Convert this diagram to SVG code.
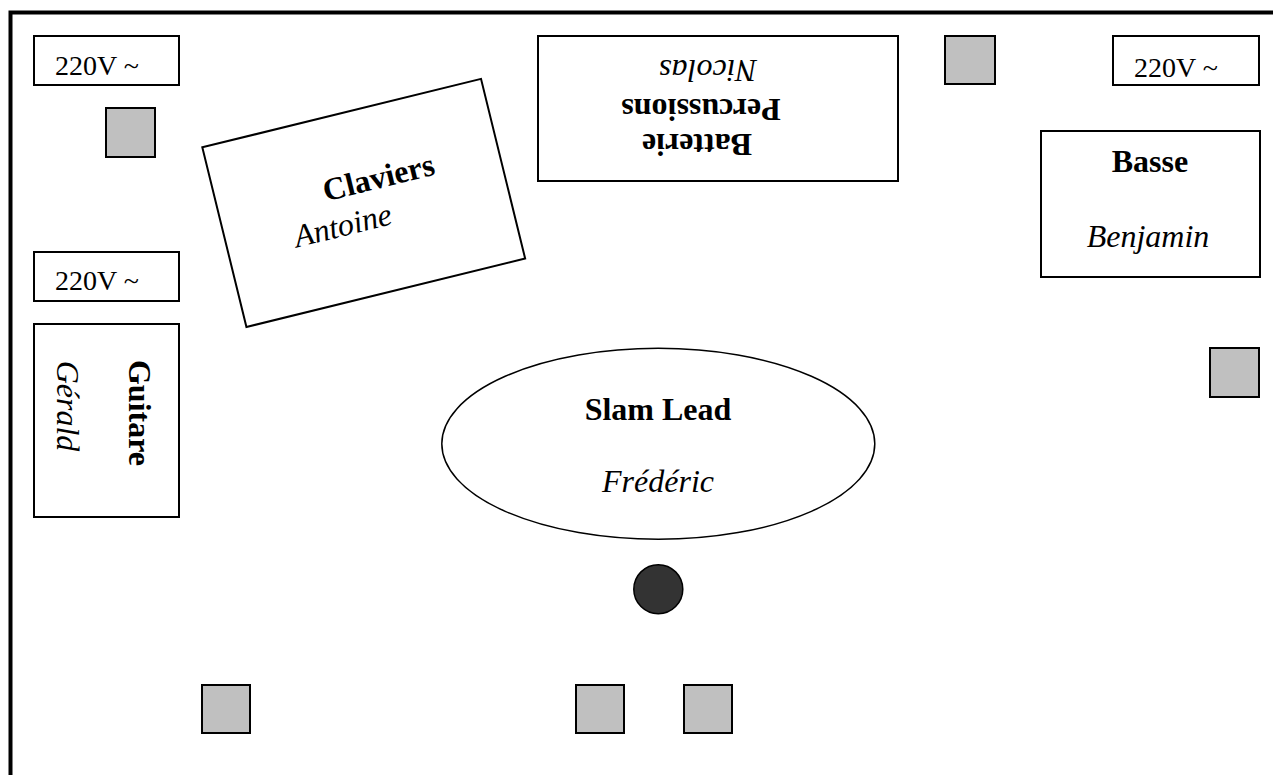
<svg xmlns="http://www.w3.org/2000/svg" width="1273" height="775" viewBox="0 0 1273 775">
<style>
  .box{fill:#fff;stroke:#000;stroke-width:2}
  .sq{fill:#c0c0c0;stroke:#000;stroke-width:2}
  .t{font-family:"Liberation Serif","Times New Roman",serif;fill:#000}
  .v{font-size:28px}
  .b{font-size:32px;font-weight:bold}
  .i{font-size:32px;font-style:italic}
</style>
<rect x="0" y="0" width="1273" height="775" fill="#fff"/>
<g id="frame"><path d="M10.5,775 V12.5 H1273" fill="none" stroke="#000" stroke-width="4"/></g>

<g id="power1"><rect class="box" x="34" y="36" width="145" height="49"/><text class="t v" x="55" y="75">220V ~</text></g>
<g id="power2"><rect class="box" x="1113" y="36" width="146" height="49"/><text class="t v" x="1134" y="77">220V ~</text></g>
<g id="power3"><rect class="box" x="34" y="252" width="145" height="49"/><text class="t v" x="55" y="290">220V ~</text></g>

<g id="claviers" transform="translate(202.3,147.3) rotate(-13.8)">
  <rect class="box" x="0" y="0" width="287" height="185"/>
  <text class="t b" x="107" y="82">Claviers</text>
  <text class="t i" x="68" y="120">Antoine</text>
</g>

<g id="batterie">
  <rect class="box" x="538" y="36" width="360" height="145"/>
  <text class="t i" text-anchor="middle" transform="translate(708,60) rotate(180)">Nicolas</text>
  <text class="t b" text-anchor="middle" transform="translate(701,98.5) rotate(180)">Percussions</text>
  <text class="t b" text-anchor="middle" transform="translate(697,133.5) rotate(180)">Batterie</text>
</g>

<g id="basse">
  <rect class="box" x="1041" y="131" width="219" height="146"/>
  <text class="t b" text-anchor="middle" x="1150" y="172">Basse</text>
  <text class="t i" text-anchor="middle" x="1148" y="247">Benjamin</text>
</g>

<g id="guitare">
  <rect class="box" x="34" y="324" width="145" height="193"/>
  <text class="t b" text-anchor="middle" transform="translate(129,413) rotate(90)">Guitare</text>
  <text class="t i" text-anchor="middle" transform="translate(57,406) rotate(90)">Gérald</text>
</g>

<g id="slam">
  <ellipse cx="658.3" cy="443.8" rx="216.5" ry="95.5" fill="#fff" stroke="#000" stroke-width="1.5"/>
  <text class="t b" text-anchor="middle" x="658" y="420">Slam Lead</text>
  <text class="t i" text-anchor="middle" x="658" y="492">Frédéric</text>
</g>

<g id="mic"><circle cx="658.3" cy="589.2" r="24.5" fill="#333" stroke="#000" stroke-width="1.5"/></g>

<g id="monitors">
  <rect id="m1" class="sq" x="106" y="108" width="49" height="49"/>
  <rect id="m2" class="sq" x="945" y="36" width="50" height="48"/>
  <rect id="m3" class="sq" x="1210" y="348" width="49" height="49"/>
  <rect id="m4" class="sq" x="202" y="685" width="48" height="48"/>
  <rect id="m5" class="sq" x="576" y="685" width="48" height="48"/>
  <rect id="m6" class="sq" x="684" y="685" width="48" height="48"/>
</g>
<g id="connectors"></g>
</svg>
